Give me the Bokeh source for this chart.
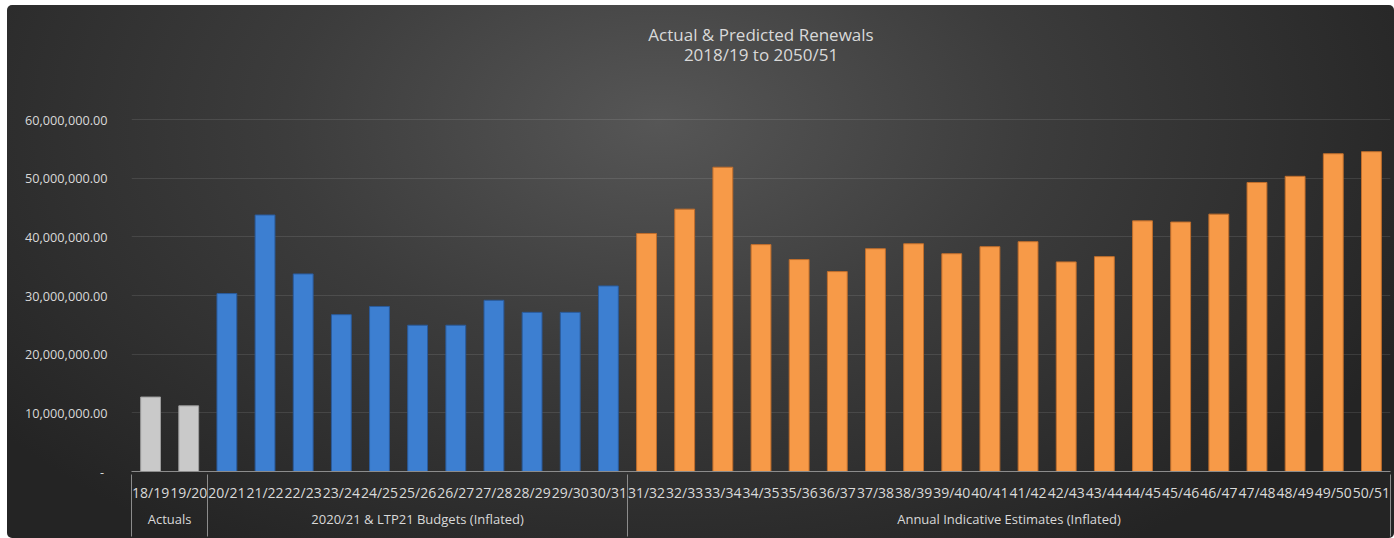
from bokeh.plotting import figure
from bokeh.models import (ColumnDataSource, FactorRange, Range1d, FixedTicker,
                          NumeralTickFormatter, Title, LinearAxis)
from bokeh.embed import file_html
from bokeh.resources import INLINE

# ---------------- data ----------------
groups = ["Actuals", "2020/21 & LTP21 Budgets (Inflated)", "Annual Indicative Estimates (Inflated)"]

actual_labels = ["18/19", "19/20"]
budget_labels = ["20/21", "21/22", "22/23", "23/24", "24/25", "25/26", "26/27",
                 "27/28", "28/29", "29/30", "30/31"]
estimate_labels = ["31/32", "32/33", "33/34", "34/35", "35/36", "36/37", "37/38",
                   "38/39", "39/40", "40/41", "41/42", "42/43", "43/44", "44/45",
                   "45/46", "46/47", "47/48", "48/49", "49/50", "50/51"]

actual_values = [12.7e6, 11.2e6]
budget_values = [30.35e6, 43.75e6, 33.7e6, 26.75e6, 28.15e6, 24.95e6, 24.95e6,
                 29.2e6, 27.15e6, 27.15e6, 31.65e6]
estimate_values = [40.6e6, 44.75e6, 51.9e6, 38.7e6, 36.15e6, 34.1e6, 38.0e6,
                   38.85e6, 37.15e6, 38.35e6, 39.2e6, 35.75e6, 36.65e6, 42.75e6,
                   42.55e6, 43.9e6, 49.3e6, 50.35e6, 54.2e6, 54.55e6]

y_ticks = [0, 10e6, 20e6, 30e6, 40e6, 50e6, 60e6]

series = [
    (groups[0], actual_labels, actual_values, "#c9c9c9", "#9c9c9c"),
    (groups[1], budget_labels, budget_values, "#3d7fd1", "#2a5b9c"),
    (groups[2], estimate_labels, estimate_values, "#f79a48", "#c06e2c"),
]

factors = [(g, lab) for g, labs, _, _, _ in series for lab in labs]

TXT = "#d9d9d9"
FONT = "Open Sans"

p = figure(width=1387, height=533, output_backend="svg", toolbar_location=None,
           x_range=FactorRange(*factors, factor_padding=0, group_padding=0,
                               subgroup_padding=0, range_padding=0),
           y_range=Range1d(0, 62.6e6), title=None,
           min_border_left=124, min_border_right=4, min_border_top=95,
           min_border_bottom=67)

p.background_fill_color = None
p.border_fill_color = None
p.outline_line_color = None
p.styles = {
    "margin-left": "7px",
    "margin-top": "5px",
    "background": "radial-gradient(ellipse 60% 95% at 47% 22%, #565656 0%, #3c3c3c 45%, #242424 100%)",
    "border-radius": "5px",
}

for g, labs, vals, fill, line in series:
    src = ColumnDataSource(dict(x=[(g, lab) for lab in labs], top=vals))
    p.vbar(x="x", top="top", width=0.52, source=src, fill_color=fill,
           line_color=line, line_width=1)

# axes
p.yaxis.ticker = FixedTicker(ticks=y_ticks)
p.yaxis.formatter = NumeralTickFormatter(format="0,0.00")
p.yaxis.major_label_overrides = {0: "- "}
p.yaxis.axis_line_color = None
p.yaxis.major_tick_line_color = None
p.yaxis.minor_tick_line_color = None
p.yaxis.major_label_standoff = 18
p.yaxis.major_label_text_font = FONT
p.yaxis.major_label_text_font_size = "12.7px"
p.yaxis.major_label_text_color = TXT

xa = p.xaxis[0]
xa.axis_line_color = "#8c8c8c"
xa.major_tick_line_color = None
xa.minor_tick_line_color = None
xa.separator_line_color = None
xa.major_label_standoff = 5
xa.major_label_text_font = FONT
xa.major_label_text_font_size = "14px"
xa.major_label_text_color = TXT
xa.group_text_font = FONT
xa.group_text_font_size = "13px"
xa.group_text_font_style = "normal"
xa.group_text_color = TXT

# group separator lines through both label rows (ticks at group boundaries)
bounds = [0]
for _, labs, _, _, _ in series:
    bounds.append(bounds[-1] + len(labs))
sep_axis = LinearAxis(ticker=FixedTicker(ticks=bounds),
                      axis_line_color=None, major_tick_in=56, major_tick_out=6,
                      major_tick_line_color="#8c8c8c", major_tick_line_width=1,
                      minor_tick_line_color=None, major_label_text_font_size="0px",
                      major_label_standoff=0,
                      major_label_overrides={b: "" for b in bounds})
p.add_layout(sep_axis, "below")

p.xgrid.grid_line_color = None
p.ygrid.ticker = FixedTicker(ticks=y_ticks[1:])
p.ygrid.grid_line_color = "#ffffff"
p.ygrid.grid_line_alpha = 0.1

title = Title(text="Actual & Predicted Renewals\n2018/19 to 2050/51\n", align="center",
              vertical_align="top", text_align="center", text_font=FONT,
              text_font_size="17px", text_font_style="normal", text_color=TXT,
              text_line_height=0.87, standoff=34)
p.add_layout(title, "above")

open("out.html", "w").write(file_html(p, INLINE))
